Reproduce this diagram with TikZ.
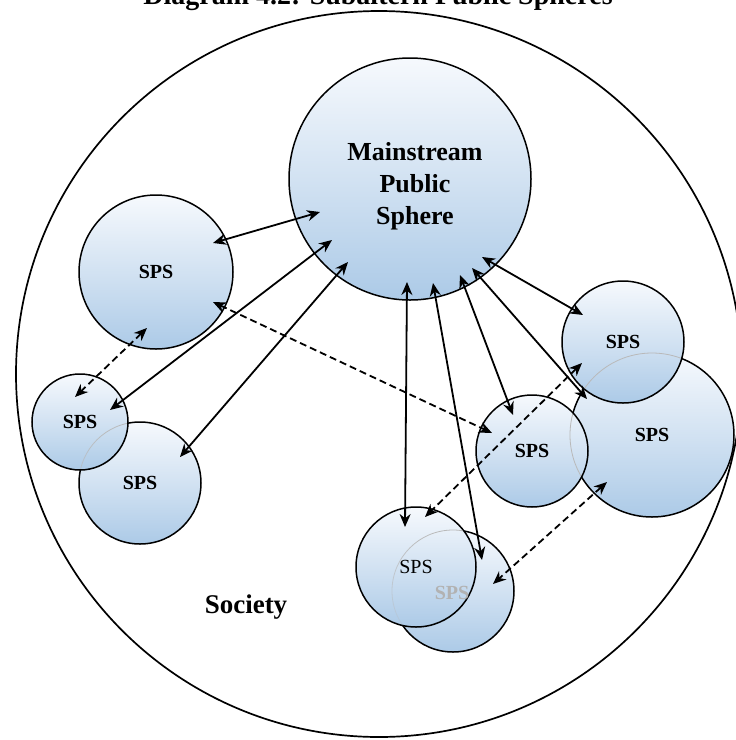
\documentclass[tikz,border=0pt]{standalone}
\usepackage{fontspec}
\setmainfont{Liberation Serif}
\usetikzlibrary{arrows.meta,fadings}

\definecolor{spstop}{RGB}{246,249,253}
\definecolor{spsmid}{RGB}{210,226,242}
\definecolor{spsbot}{RGB}{172,202,231}

\tikzset{
  sphere/.style={circle, draw=black, line width=1.5pt, inner sep=0pt,
    top color=spstop, bottom color=spsbot, middle color=spsmid,
    font=\bfseries\fontsize{20}{24}\selectfont},
  tip/.tip={Stealth[length=13pt,width=11pt]},
  link/.style={line width=1.8pt, tip-tip},
  dlink/.style={link, dash pattern=on 7pt off 4pt},
  ghost/.style={draw=gray!55, line width=0.8pt},
}

\begin{document}
\begin{tikzpicture}[x=1pt, y=-1pt]
  \useasboundingbox (0,0) rectangle (736,740);

  % title and the society
  \node[anchor=base, font=\bfseries\fontsize{28}{34}\selectfont] (title) at (378,4.5)
    {Diagram 4.2: Subaltern Public Spheres};
  \draw[line width=1.7pt] (379,374) circle (363pt);
  \node[font=\bfseries\fontsize{27}{32}\selectfont] (society) at (246,607) {Society};

  % spheres that sit behind others
  \node[sphere, minimum size=122pt] (s3) at (140,483) {SPS};
  \node[sphere, minimum size=164pt] (s5) at (652,435) {SPS};
  \node[sphere, minimum size=122pt] (s8) at (453,591) {};

  % mainstream sphere and the front spheres
  \node[sphere, minimum size=242pt] (main) at (410,179) {};
  \node[font=\bfseries\fontsize{26}{32}\selectfont, align=center] (mainlabel) at (415,186)
    {Mainstream\\Public\\Sphere};
  \node[sphere, minimum size=154pt] (s1) at (156,272) {SPS};
  \node[sphere, minimum size=96pt] (s2) at (80,422) {SPS};
  \node[sphere, minimum size=122pt] (s4) at (623,342) {SPS};
  \node[sphere, minimum size=112pt] (s6) at (532,451) {SPS};
  \node[sphere, minimum size=120pt, font=\fontsize{20}{24}\selectfont] (s7) at (416,567) {SPS};

  % label of the hidden sphere, seen through the front one
  \node[font=\bfseries\fontsize{20}{24}\selectfont, text=gray!60] (s8label) at (452,593) {SPS};

  % outlines of hidden spheres seen through the front ones
  \begin{scope}
    \clip (s2.center) circle (47pt);
    \draw[ghost, path fading=south] (s3.center) circle (61pt);
  \end{scope}
  \begin{scope}
    \clip (s4.center) circle (60pt);
    \draw[ghost] (s5.center) circle (82pt);
  \end{scope}
  \begin{scope}
    \clip (s6.center) circle (55pt);
    \draw[ghost] (s5.center) circle (82pt);
  \end{scope}
  \begin{scope}
    \clip (s7.center) circle (59pt);
    \draw[ghost, path fading=south] (s8.center) circle (61pt);
  \end{scope}

  % arrow end points
  \coordinate (m1) at (320,212);
  \coordinate (m2) at (332,240);
  \coordinate (m3) at (348,262);
  \coordinate (m4) at (407,282);
  \coordinate (m5) at (433,283);
  \coordinate (m6) at (460,275);
  \coordinate (m7) at (472,268);
  \coordinate (m8) at (482,257);
  \coordinate (e1) at (213,243);
  \coordinate (e2) at (110,410);
  \coordinate (e3) at (180,457);
  \coordinate (e7) at (405,527);
  \coordinate (e8) at (482,560);
  \coordinate (e6) at (513,415);
  \coordinate (e5) at (587,399);
  \coordinate (e4) at (583,315);

  \coordinate (d1a) at (147,328);
  \coordinate (d1b) at (75,397);
  \coordinate (d2a) at (213,302);
  \coordinate (d2b) at (492,433);
  \coordinate (d3a) at (582,363);
  \coordinate (d3b) at (425,517);
  \coordinate (d4a) at (607,482);
  \coordinate (d4b) at (493,584);

  % links with the mainstream sphere
  \draw[link] (e1) -- (m1);
  \draw[link] (e2) -- (m2);
  \draw[link] (e3) -- (m3);
  \draw[link] (e7) -- (m4);
  \draw[link] (e8) -- (m5);
  \draw[link] (e6) -- (m6);
  \draw[link] (e5) -- (m7);
  \draw[link] (e4) -- (m8);

  % links between subaltern spheres
  \draw[dlink] (d1a) -- (d1b);
  \draw[dlink] (d2a) -- (d2b);
  \draw[dlink] (d3a) -- (d3b);
  \draw[dlink] (d4a) -- (d4b);
\end{tikzpicture}
\end{document}
